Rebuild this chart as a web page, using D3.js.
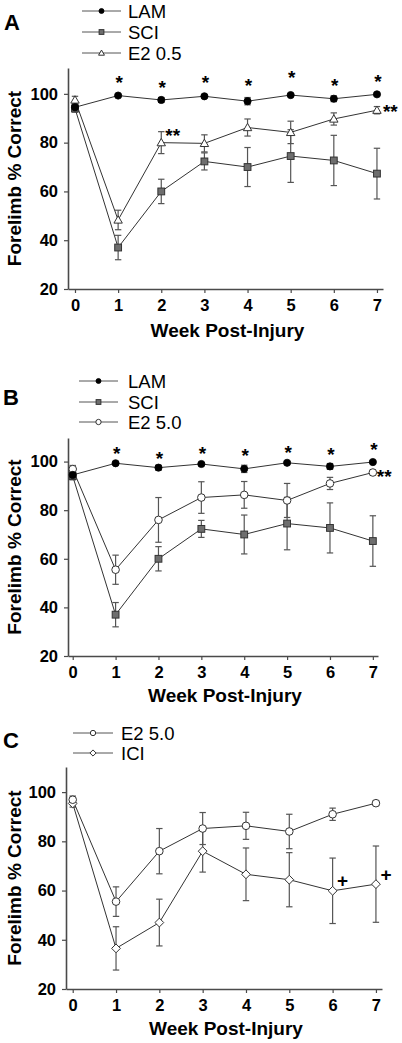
<!DOCTYPE html>
<html><head><meta charset="utf-8">
<script src="https://cdn.jsdelivr.net/npm/d3@7"></script>
<style>
body{margin:0;background:#fff}
svg{display:block}
text{font-family:'Liberation Sans',Arial,Helvetica,sans-serif;fill:#000}
</style>
</head><body>
<svg id="chart" width="402" height="1043"></svg>
<script>
// ---------- data ----------
const weeks = [0, 1, 2, 3, 4, 5, 6, 7];
const yTicks = [20, 40, 60, 80, 100];

const lamMean = [94.5, 99.3, 97.5, 99.0, 97.0, 99.5, 98.0, 99.8];
const lamErr  = [1.0, 0.5, 1.0, 0.6, 1.5, 0.5, 1.2, 0.5];

const sciMean = [94.0, 37.0, 60.0, 72.3, 70.0, 74.5, 72.7, 67.3];
const sciErr  = [1.5, 5.0, 5.0, 3.5, 8.0, 10.8, 10.3, 10.4];

const e205Mean = [97.5, 48.3, 80.0, 79.7, 86.2, 84.2, 89.7, 93.3];
const e205Err  = [1.5, 4.0, 4.5, 3.5, 3.5, 4.6, 2.5, 1.5];

const e250Mean = [96.9, 55.5, 76.0, 85.2, 86.3, 84.0, 91.0, 95.5];
const e250Err  = [1.5, 6.0, 9.2, 6.5, 5.5, 7.0, 2.5, 1.0];

const iciMean = [95.4, 36.5, 47.0, 76.0, 66.6, 64.4, 59.9, 62.6];
const iciErr  = [1.5, 8.8, 9.5, 8.5, 10.7, 11.0, 13.3, 15.5];

const starsA = [106.2, 104.5, 106.2, 105.3, 108.2, 105.3, 106.6];
const starsB = [105.2, 103.1, 105.2, 104.0, 105.6, 104.8, 106.8];

const legendA = ["LAM", "SCI", "E2 0.5"];
const legendB = ["LAM", "SCI", "E2 5.0"];
const legendC = ["E2 5.0", "ICI"];

// ---------- series definitions ----------
const LAM  = {mean: lamMean,  err: lamErr,  marker: "dot"};
const SCI  = {mean: sciMean,  err: sciErr,  marker: "square"};
const E205 = {mean: e205Mean, err: e205Err, marker: "triangle"};
const E250 = {mean: e250Mean, err: e250Err, marker: "circle"};
const ICI  = {mean: iciMean,  err: iciErr,  marker: "diamond"};

const panels = [
  {letter: "A", letterXY: [4, 30],
   xd: [-0.162, 7.14], xr: [68, 383], yd: [20, 110.6], yr: [289, 68],
   xLabelY: 337, yLabelX: 21,
   legend: {labels: legendA, series: [LAM, SCI, E205], x0: 82, x1: 121, tx: 128, ys: [11, 32, 53]},
   draw: [SCI, E205, LAM],
   notes: weeks.slice(1).map((w, i) => ({t: "*", x: w, y: starsA[i], dx: 1, anchor: "middle"}))
     .concat([{t: "**", x: 2, y: 84.8, dx: 4, anchor: "start"},
              {t: "**", x: 7, y: 94.3, dx: 6, anchor: "start"}])},
  {letter: "B", letterXY: [3, 405],
   xd: [-0.11, 7.12], xr: [68, 378], yd: [20, 109.7], yr: [656, 438],
   xLabelY: 702, yLabelX: 21,
   legend: {labels: legendB, series: [LAM, SCI, E250], x0: 79, x1: 118, tx: 128, ys: [381, 402, 422]},
   draw: [SCI, E250, LAM],
   notes: weeks.slice(1).map((w, i) => ({t: "*", x: w, y: starsB[i], dx: 1, anchor: "middle"}))
     .concat([{t: "**", x: 7, y: 95.7, dx: 4, anchor: "start"}])},
  {letter: "C", letterXY: [3, 748],
   xd: [-0.155, 7.14], xr: [66, 382], yd: [20, 110.2], yr: [989, 767],
   xLabelY: 1035, yLabelX: 21,
   legend: {labels: legendC, series: [E250, ICI], x0: 73, x1: 113, tx: 121, ys: [733, 753]},
   draw: [ICI, E250],
   notes: [{t: "+", x: 6, y: 63.9, dx: 10, anchor: "middle"},
           {t: "+", x: 7, y: 66.7, dx: 10, anchor: "middle"}]}
];

const svg = d3.select("#chart");
const axisColor = "#4a4a4a";

function drawMarker(g, type, cx, cy, s) {
  if (type === "dot") {
    g.append("circle").attr("cx", cx).attr("cy", cy).attr("r", 3.6 * s)
      .attr("fill", "#000").attr("stroke", "#000").attr("stroke-width", 0.8);
  } else if (type === "square") {
    const h = 3.4 * s;
    g.append("rect").attr("x", cx - h).attr("y", cy - h).attr("width", 2 * h).attr("height", 2 * h)
      .attr("fill", "#6e6e6e").attr("stroke", "#333").attr("stroke-width", 1);
  } else if (type === "triangle") {
    const h = 4.2 * s;
    g.append("path").attr("d", `M${cx},${cy - h}L${cx + h},${cy + h * 0.75}L${cx - h},${cy + h * 0.75}Z`)
      .attr("fill", "#fff").attr("stroke", "#333").attr("stroke-width", 1);
  } else if (type === "circle") {
    g.append("circle").attr("cx", cx).attr("cy", cy).attr("r", 3.8 * s)
      .attr("fill", "#fff").attr("stroke", "#333").attr("stroke-width", 1);
  } else if (type === "diamond") {
    const h = 4.4 * s;
    g.append("path").attr("d", `M${cx},${cy - h}L${cx + h},${cy}L${cx},${cy + h}L${cx - h},${cy}Z`)
      .attr("fill", "#fff").attr("stroke", "#333").attr("stroke-width", 1);
  }
}

panels.forEach(p => {
  const g = svg.append("g");
  const x = d3.scaleLinear().domain(p.xd).range(p.xr);
  const y = d3.scaleLinear().domain(p.yd).range(p.yr);

  // panel letter
  g.append("text").attr("x", p.letterXY[0]).attr("y", p.letterXY[1])
    .attr("font-size", 22).attr("font-weight", "bold").text(p.letter);

  // legend
  p.legend.labels.forEach((lab, i) => {
    const ly = p.legend.ys[i];
    g.append("line").attr("x1", p.legend.x0).attr("x2", p.legend.x1).attr("y1", ly).attr("y2", ly)
      .attr("stroke", "#555").attr("stroke-width", 1);
    drawMarker(g, p.legend.series[i].marker, (p.legend.x0 + p.legend.x1) / 2, ly, 0.7);
    g.append("text").attr("x", p.legend.tx).attr("y", ly + 6.6)
      .attr("font-size", 18.5).text(lab);
  });

  // axes
  const ya = g.append("g").attr("transform", `translate(${p.xr[0]},0)`)
    .call(d3.axisLeft(y).tickValues(yTicks).tickSize(4).tickSizeOuter(0).tickPadding(6));
  const xa = g.append("g").attr("transform", `translate(0,${p.yr[0]})`)
    .call(d3.axisBottom(x).tickValues(weeks).tickSize(4).tickSizeOuter(0).tickPadding(6));
  [ya, xa].forEach(a => {
    a.select(".domain").attr("stroke", axisColor).attr("stroke-width", 1.6);
    a.selectAll(".tick line").attr("stroke", axisColor).attr("stroke-width", 1.2);
    a.selectAll(".tick text").attr("font-size", 16.5).attr("font-weight", "bold")
      .attr("fill", "#000").style("font-family", "'Liberation Sans',Arial,sans-serif");
  });

  // axis titles
  g.append("text").attr("x", (p.xr[0] + p.xr[1]) / 2 + 2).attr("y", p.xLabelY)
    .attr("text-anchor", "middle").attr("font-size", 19).attr("font-weight", "bold")
    .text("Week Post-Injury");
  g.append("text")
    .attr("transform", `translate(${p.yLabelX},${(p.yr[0] + p.yr[1]) / 2}) rotate(-90)`)
    .attr("text-anchor", "middle").attr("font-size", 19).attr("font-weight", "bold")
    .text("Forelimb % Correct");

  // error bars
  p.draw.forEach(s => {
    weeks.forEach((w, i) => {
      const cx = x(w), y1 = y(s.mean[i] - s.err[i]), y2 = y(s.mean[i] + s.err[i]);
      g.append("line").attr("x1", cx).attr("x2", cx).attr("y1", y1).attr("y2", y2)
        .attr("stroke", "#555").attr("stroke-width", 1.2);
      [y1, y2].forEach(yy => g.append("line").attr("x1", cx - 3.2).attr("x2", cx + 3.2)
        .attr("y1", yy).attr("y2", yy).attr("stroke", "#555").attr("stroke-width", 1.2));
    });
  });

  // lines
  const line = d3.line().x((d, i) => x(weeks[i])).y(d => y(d));
  p.draw.forEach(s => {
    g.append("path").attr("d", line(s.mean)).attr("fill", "none")
      .attr("stroke", "#333").attr("stroke-width", 1);
  });

  // markers
  p.draw.forEach(s => {
    weeks.forEach((w, i) => drawMarker(g, s.marker, x(w), y(s.mean[i]), 1));
  });

  // annotations
  p.notes.forEach(n => {
    const off = n.t === "+" ? 0.34 : 0.56;
    g.append("text").attr("x", x(n.x) + n.dx).attr("y", y(n.y) + off * 19)
      .attr("text-anchor", n.anchor).attr("font-size", 19).attr("font-weight", "bold").text(n.t);
  });
});
</script>
</body></html>
